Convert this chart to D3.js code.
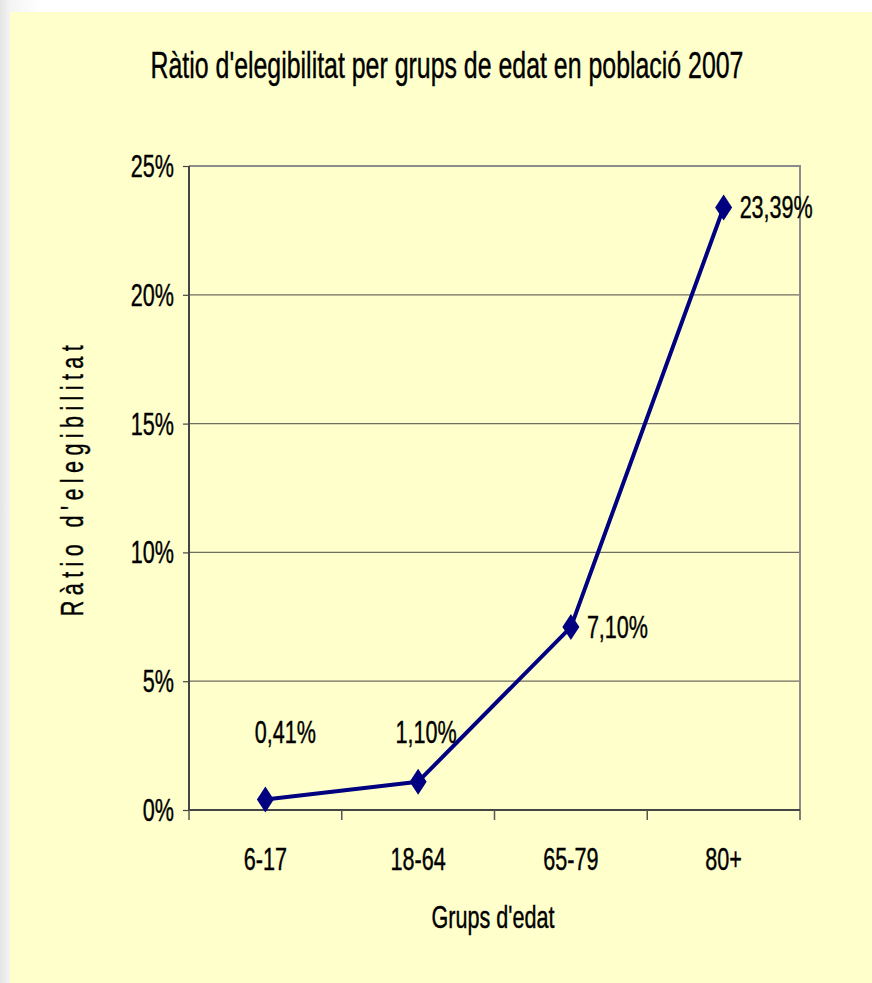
<!DOCTYPE html>
<html lang="ca">
<head>
<meta charset="utf-8">
<title>Ràtio d'elegibilitat</title>
<script src="https://cdnjs.cloudflare.com/ajax/libs/d3/7.8.5/d3.min.js"></script>
<style>
  html, body { margin: 0; padding: 0; }
  body {
    width: 872px; height: 983px; overflow: hidden;
    background: linear-gradient(to right, #e4e4e4 0px, #f4f4f4 10px, #ffffff 40px);
  }
  text { font-family: "Liberation Sans", Arial, sans-serif; fill: #000; stroke: #000; stroke-width: 0.35px; }
</style>
</head>
<body>
<script>
// data
const groups = ["6-17", "18-64", "65-79", "80+"];
const ratio = [0.41, 1.10, 7.10, 23.39];
const valueLabels = ["0,41%", "1,10%", "7,10%", "23,39%"];
const yTicks = [0, 5, 10, 15, 20, 25];

const title = "Ràtio d'elegibilitat per grups de edat en població 2007";
const xTitle = "Grups d'edat";
const yTitle = "Ràtio d'elegibilitat";

const W = 872, H = 983;
const plot = { left: 189, top: 166, right: 800, bottom: 810 };
// the original uses a narrow font, stretched up a bit
const sx = 0.83, sy = 1.23;

const svg = d3.select("body").append("svg")
  .attr("width", W).attr("height", H);

svg.append("rect")
  .attr("x", 10).attr("y", 12)
  .attr("width", W - 10).attr("height", H - 12)
  .attr("fill", "#ffffcc");

const x = d3.scaleBand().domain(groups).range([plot.left, plot.right]);
const y = d3.scaleLinear().domain([0, 25]).range([plot.bottom, plot.top]);

function label(g, str, tx, ty, size, anchor, rot) {
  return g.append("text")
    .attr("transform", `translate(${tx},${ty})` + (rot ? ` rotate(${rot})` : "") + ` scale(${sx},${sy})`)
    .attr("text-anchor", anchor)
    .attr("font-size", size)
    .text(str);
}

// gridlines
svg.append("g").selectAll("line")
  .data(yTicks.filter(d => d > 0 && d < 25))
  .join("line")
  .attr("x1", plot.left).attr("x2", plot.right)
  .attr("y1", d => y(d)).attr("y2", d => y(d))
  .attr("stroke", "#6e6e62").attr("stroke-width", 1.2);

// plot border (top, right)
svg.append("path")
  .attr("d", `M${plot.left},${plot.top}H${plot.right}V${plot.bottom}`)
  .attr("fill", "none").attr("stroke", "#8c8c8c").attr("stroke-width", 2);

// y axis
const yAxis = svg.append("g")
  .attr("transform", `translate(${plot.left},0)`)
  .call(d3.axisLeft(y).tickValues(yTicks).tickSize(6).tickFormat(() => ""));
yAxis.select(".domain").attr("stroke", "#444").attr("stroke-width", 2).attr("d", `M0,${plot.top}V${plot.bottom}`);
yAxis.selectAll(".tick line").attr("stroke", "#444").attr("stroke-width", 1.2);
yTicks.forEach(t => label(svg, t + "%", plot.left - 15, y(t) + 11, 26, "end"));

// x axis
const xAxis = svg.append("g")
  .attr("transform", `translate(0,${plot.bottom})`)
  .call(d3.axisBottom(x).tickSize(0).tickFormat(() => ""));
xAxis.select(".domain").attr("stroke", "#444").attr("stroke-width", 2).attr("d", `M${plot.left},0H${plot.right}`);
const bounds = groups.map(g => x(g)).concat([plot.right]);
xAxis.selectAll(".bound").data(bounds).join("line")
  .attr("x1", d => d).attr("x2", d => d)
  .attr("y1", 0).attr("y2", 10)
  .attr("stroke", "#555").attr("stroke-width", 1.5);
groups.forEach(g => label(svg, g, x(g) + x.bandwidth() / 2, 870, 26, "middle"));

// line
const cx = d => x(d) + x.bandwidth() / 2;
svg.append("path")
  .datum(groups.map((g, i) => [cx(g), y(ratio[i])]))
  .attr("d", d3.line())
  .attr("fill", "none").attr("stroke", "#000080").attr("stroke-width", 4)
  .attr("stroke-linejoin", "round");

// diamond markers
svg.append("g").selectAll("path")
  .data(groups)
  .join("path")
  .attr("transform", (g, i) => `translate(${cx(g)},${y(ratio[i])})`)
  .attr("d", "M0,-13L8.5,0L0,13L-8.5,0Z")
  .attr("fill", "#000080");

// value labels: first two sit above, last two to the right
const labelOffsets = [[20, -56], [8, -39], [16, 11], [16, 11]];
groups.forEach((g, i) => {
  const [dx, dy] = labelOffsets[i];
  label(svg, valueLabels[i], cx(g) + dx, y(ratio[i]) + dy, 26, i < 2 ? "middle" : "start");
});

// titles
label(svg, title, 447, 78, 30, "middle");
label(svg, xTitle, 493, 928, 26, "middle");
label(svg, yTitle, 83, 478, 26, "middle", -90).attr("letter-spacing", 6.5);
</script>
</body>
</html>
